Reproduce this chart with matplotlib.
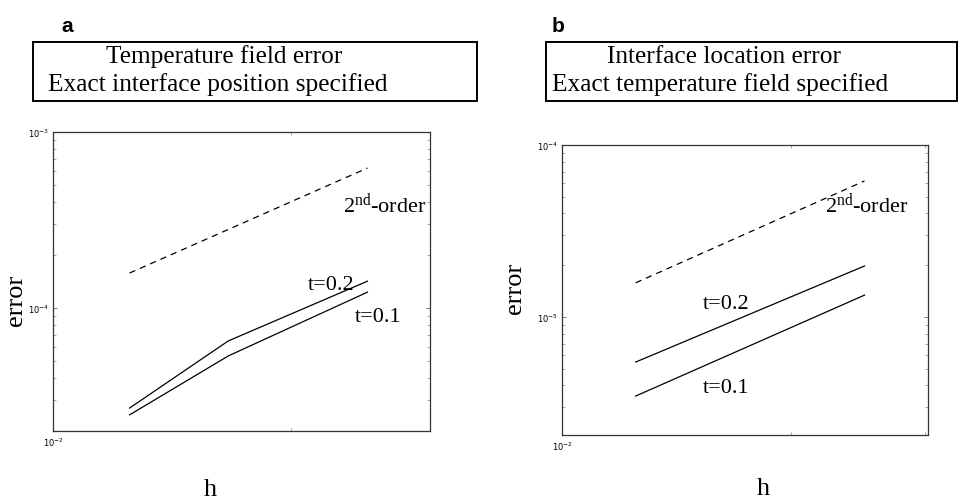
import matplotlib
matplotlib.use("Agg")
import matplotlib.pyplot as plt
from matplotlib.patches import Rectangle
from matplotlib.ticker import NullFormatter

plt.rcParams['mathtext.fontset'] = 'custom'
plt.rcParams['mathtext.rm'] = 'Liberation Serif'
plt.rcParams['mathtext.it'] = 'Liberation Serif:italic'
plt.rcParams['mathtext.bf'] = 'Liberation Serif:bold'

SERIF = 'Liberation Serif'
SANS = 'Liberation Sans'

# ---- data (panel a) ----
h_a = [1/80, 1/60, 1/40]
err_a_t02 = [2.70e-5, 6.5e-5, 1.42e-4]
err_a_t01 = [2.47e-5, 5.34e-5, 1.23e-4]
h_ref_a = [1/80, 1/40]
ref_a = [1.58e-4, 6.24e-4]

# ---- data (panel b) ----
h_b = [1/80, 1/40]
err_b_t02 = [5.47e-6, 1.98e-5]
err_b_t01 = [3.47e-6, 1.34e-5]
h_ref_b = [1/80, 1/40]
ref_b = [1.58e-5, 6.18e-5]

W, H = 958, 502
fig = plt.figure(figsize=(W/100, H/100), dpi=100)

def px_axes(l, t, r, b):
    return fig.add_axes([l/W, 1 - b/H, (r-l)/W, (b-t)/H])

def style(ax, xlim, ylim):
    ax.set_xscale('log'); ax.set_yscale('log')
    ax.set_xlim(*xlim); ax.set_ylim(*ylim)
    for s in ax.spines.values():
        s.set_linewidth(0.9); s.set_color('#333333')
    ax.tick_params(which='both', direction='in', top=True, right=True,
                   labelsize=6, color='#666666', pad=3)
    ax.tick_params(which='major', length=3, width=0.6)
    ax.tick_params(which='minor', length=2, width=0.4)
    ax.yaxis.set_minor_formatter(NullFormatter())
    ax.xaxis.set_minor_formatter(NullFormatter())

def labels(ax, ylx, yly, hx, hy):
    ax.set_ylabel('error', fontsize=19, family=SERIF)
    ax.yaxis.label.set_va('center')
    ax.yaxis.set_label_coords(ylx, yly)
    ax.set_xlabel('h', fontsize=19, family=SERIF)
    ax.xaxis.label.set_va('center')
    ax.xaxis.set_label_coords(hx, hy)

# panel a  (axes pixels: x 53..430, y 133..432)
ax1 = px_axes(53, 133, 430, 432)
ax1.plot(h_ref_a, ref_a, color='black', lw=0.9, ls=(0, (5, 4)))
ax1.plot(h_a, err_a_t02, color='black', lw=0.9)
ax1.plot(h_a, err_a_t01, color='black', lw=0.9)
style(ax1, (0.01, 0.030), (2.0e-5, 1e-3))
ax1.text(0.0233, 3.9e-4, r'2$^{\rm nd}$-order', fontsize=16, family=SERIF, ha='left', va='center')
ax1.text(0.0210, 1.36e-4, 't=0.2', fontsize=16, family=SERIF, ha='left', va='center')
ax1.text(0.0241, 9.0e-5, 't=0.1', fontsize=16, family=SERIF, ha='left', va='center')
labels(ax1, (16-53)/377, (432-300)/299, (210-53)/377, (432-490)/299)

# panel b  (axes pixels: x 562..928, y 146..436)
ax2 = px_axes(562, 146, 928, 436)
ax2.plot(h_ref_b, ref_b, color='black', lw=0.9, ls=(0, (5, 4)))
ax2.plot(h_b, err_b_t02, color='black', lw=0.9)
ax2.plot(h_b, err_b_t01, color='black', lw=0.9)
style(ax2, (0.01, 0.0303), (2.06e-6, 1e-4))
ax2.text(0.0222, 4.5e-5, r'2$^{\rm nd}$-order', fontsize=16, family=SERIF, ha='left', va='center')
ax2.text(0.0153, 1.19e-5, 't=0.2', fontsize=16, family=SERIF, ha='left', va='center')
ax2.text(0.0153, 3.87e-6, 't=0.1', fontsize=16, family=SERIF, ha='left', va='center')
labels(ax2, (515-562)/366, (436-288)/290, (763-562)/366, (436-489)/290)

# header boxes
def box(l, t, r, b):
    fig.add_artist(Rectangle((l/W, 1 - b/H), (r-l)/W, (b-t)/H,
                             transform=fig.transFigure, fill=False,
                             lw=1.4, edgecolor='black', clip_on=False))

FS = 18.3
box(33, 43, 477, 102)
fig.text(106/W, 1 - 57/H, 'Temperature field error', fontsize=FS, family=SERIF, ha='left', va='center')
fig.text(48/W, 1 - 85/H, 'Exact interface position specified', fontsize=FS, family=SERIF, ha='left', va='center')
fig.text(61/W, 1 - 27/H, 'a', fontsize=15, family=SANS, weight='bold', ha='left', va='center')

box(546, 43, 957, 102)
fig.text(607/W, 1 - 57/H, 'Interface location error', fontsize=FS, family=SERIF, ha='left', va='center')
fig.text(552/W, 1 - 85/H, 'Exact temperature field specified', fontsize=FS, family=SERIF, ha='left', va='center')
fig.text(552/W, 1 - 27/H, 'b', fontsize=15, family=SANS, weight='bold', ha='left', va='center')

fig.savefig('out.png', dpi=100)
